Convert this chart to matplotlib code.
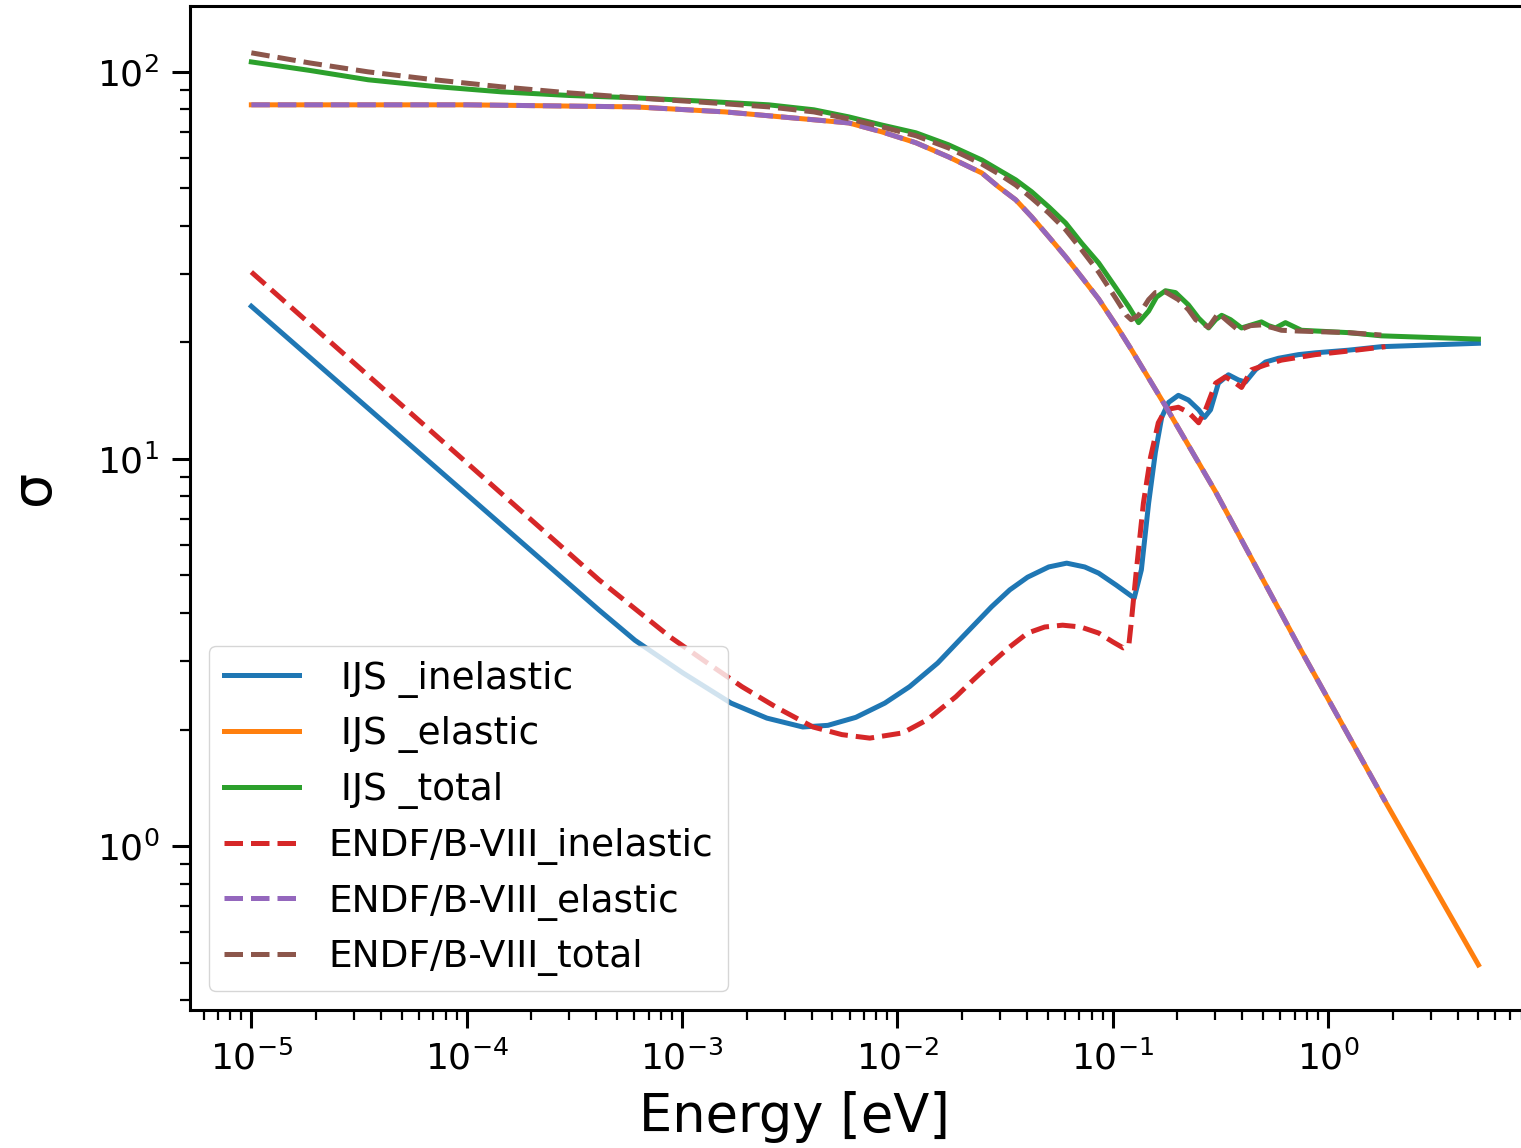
import matplotlib
matplotlib.use("Agg")
import matplotlib.pyplot as plt

# Cross sections (energy in eV, sigma in barn)

# IJS elastic; ENDF/B-VIII elastic lies on the same curve but stops at ~1.85 eV
e_el = [1e-5, 1e-4, 6.05e-4, 1.59e-3, 4.10e-3, 5.96e-3, 8.47e-3, 0.0122, 0.0173,
        0.0247, 0.0296, 0.0355, 0.0421, 0.0505, 0.0605, 0.0718, 0.0861, 0.103,
        0.122, 0.176, 0.301, 0.753, 1.85, 5.0]
s_ijs_el = [82.2, 82.2, 81.2, 78.8, 75.2, 73.8, 70.0, 65.6, 60.3,
            54.8, 50.4, 46.7, 42.2, 37.5, 33.3, 29.5, 25.9, 22.3,
            19.2, 13.7, 8.22, 3.19, 1.30, 0.493]
e_endf_el = e_el[:-1]
s_endf_el = s_ijs_el[:-1]

# IJS inelastic
e_ijs_in = [1e-5, 4.12e-4, 6.05e-4, 1.01e-3, 1.69e-3, 2.48e-3, 3.64e-3, 4.76e-3,
            6.42e-3, 8.75e-3, 0.0114, 0.0154, 0.0201, 0.0274, 0.0333, 0.0403,
            0.0505, 0.0612, 0.0742, 0.0861, 0.104, 0.126, 0.136, 0.147, 0.158,
            0.169, 0.182, 0.202, 0.225, 0.251, 0.267, 0.285, 0.310, 0.345,
            0.384, 0.414, 0.461, 0.513, 0.589, 0.730, 0.875, 1.245, 1.77, 5.0]
s_ijs_in = [24.8, 4.07, 3.40, 2.80, 2.34, 2.14, 2.03, 2.05,
            2.15, 2.34, 2.58, 2.97, 3.47, 4.15, 4.59, 4.95,
            5.26, 5.38, 5.26, 5.07, 4.72, 4.37, 5.17, 7.69, 10.4,
            12.8, 14.0, 14.6, 14.2, 13.4, 12.8, 13.4, 15.7, 16.5,
            16.0, 15.8, 17.0, 17.8, 18.2, 18.6, 18.8, 19.1, 19.5, 19.9]

# IJS total
e_ijs_tot = [1e-5, 1.86e-5, 3.49e-5, 7.07e-5, 1.45e-4, 2.99e-4, 6.05e-4, 1.2e-3,
             2.53e-3, 4.10e-3, 5.96e-3, 8.47e-3, 0.0122, 0.0173, 0.0247, 0.0296,
             0.0355, 0.0421, 0.0505, 0.0605, 0.0718, 0.0861, 0.103, 0.119, 0.132,
             0.147, 0.160, 0.176, 0.196, 0.225, 0.251, 0.279, 0.301, 0.321,
             0.353, 0.397, 0.442, 0.491, 0.530, 0.571, 0.635, 0.753, 1.245,
             1.77, 5.0]
s_ijs_tot = [106.1, 100.9, 95.4, 91.7, 88.8, 86.9, 85.7, 84.1,
             82.2, 79.8, 76.5, 72.9, 69.6, 64.8, 59.2, 55.8,
             52.6, 49.0, 44.8, 40.7, 36.1, 32.1, 27.8, 24.7, 22.5,
             24.1, 26.2, 27.2, 26.9, 25.0, 23.1, 21.8, 22.9, 23.5,
             22.9, 21.8, 22.2, 22.6, 22.1, 21.8, 22.5, 21.5, 21.2,
             20.8, 20.4]

# ENDF/B-VIII inelastic
e_endf_in = [1e-5, 4.12e-4, 8.8e-4, 1.29e-3, 1.9e-3, 2.79e-3, 4.06e-3, 5.53e-3,
             7.45e-3, 0.0106, 0.0138, 0.0187, 0.0226, 0.0274, 0.0333, 0.0403,
             0.0484, 0.0586, 0.0711, 0.0861, 0.100, 0.112, 0.119, 0.122, 0.129,
             0.139, 0.150, 0.163, 0.176, 0.202, 0.225, 0.251, 0.270, 0.301,
             0.334, 0.372, 0.397, 0.442, 0.513, 0.608, 0.875, 1.245, 1.85]
s_endf_in = [30.4, 4.87, 3.47, 2.99, 2.58, 2.27, 2.03, 1.94,
             1.90, 1.96, 2.12, 2.43, 2.69, 2.97, 3.27, 3.55,
             3.68, 3.72, 3.68, 3.55, 3.37, 3.25, 3.31, 3.77, 5.17,
             7.69, 10.1, 12.4, 13.4, 13.6, 13.2, 12.4, 13.4, 15.7,
             16.3, 15.7, 15.3, 17.0, 17.5, 18.0, 18.6, 19.0, 19.5]

# ENDF/B-VIII total
e_endf_tot = [1e-5, 1.86e-5, 3.49e-5, 7.07e-5, 1.45e-4, 2.99e-4, 6.05e-4, 1.2e-3,
              2.53e-3, 4.10e-3, 5.96e-3, 8.47e-3, 0.0122, 0.0173, 0.0247, 0.0296,
              0.0355, 0.0421, 0.0505, 0.0605, 0.0718, 0.0861, 0.103, 0.116, 0.122,
              0.132, 0.147, 0.158, 0.176, 0.202, 0.225, 0.243, 0.279, 0.310,
              0.345, 0.384, 0.437, 0.491, 0.559, 0.608, 0.730, 1.245, 1.77]
s_endf_tot = [112.0, 105.5, 100.0, 95.4, 91.5, 88.25, 85.7, 83.6,
              81.2, 78.8, 75.6, 72.1, 68.4, 63.6, 57.8, 54.5,
              51.0, 47.2, 43.2, 39.1, 34.7, 30.4, 26.1, 23.5, 22.9,
              23.5, 25.8, 26.9, 27.0, 25.8, 24.3, 22.9, 21.9, 23.8,
              22.6, 21.5, 22.1, 22.2, 21.8, 21.5, 21.4, 21.2, 20.9]

# major tick positions shown in the picture
x_ticks = [1e-5, 1e-4, 1e-3, 1e-2, 1e-1, 1e0]
y_ticks = [1e0, 1e1, 1e2]

lw = 3.6

fig = plt.figure(figsize=(15.21, 11.48), dpi=100)
# axes run a bit past the right edge of the picture, like in the original crop
ax = fig.add_axes([0.1249, 0.1202, 0.8876, 0.8746])

ax.loglog(e_ijs_in, s_ijs_in, '-', color='C0', lw=lw, label=' IJS _inelastic')
ax.loglog(e_el, s_ijs_el, '-', color='C1', lw=lw, label=' IJS _elastic')
ax.loglog(e_ijs_tot, s_ijs_tot, '-', color='C2', lw=lw, label=' IJS _total')
ax.loglog(e_endf_in, s_endf_in, '--', color='C3', lw=lw, label='ENDF/B-VIII_inelastic')
ax.loglog(e_endf_el, s_endf_el, '--', color='C4', lw=lw, label='ENDF/B-VIII_elastic')
ax.loglog(e_endf_tot, s_endf_tot, '--', color='C5', lw=lw, label='ENDF/B-VIII_total')

ax.set_xticks(x_ticks)
ax.set_yticks(y_ticks)
ax.set_xlim(10 ** -5.285, 10 ** 0.985)
ax.set_ylim(0.377, 148)

ax.set_xlabel('Energy [eV]', fontsize=38, labelpad=10)
ax.set_ylabel('σ', fontsize=40, labelpad=26)
ax.xaxis.label.set_x(0.448)
ax.yaxis.label.set_y(0.52)

ax.tick_params(which='major', labelsize=26, length=13, width=2.2, pad=9)
ax.tick_params(which='minor', length=7.5, width=1.6)
for sp in ax.spines.values():
    sp.set_linewidth(2.2)

ax.legend(loc='lower left', fontsize=27)

plt.savefig('out.png', dpi=100)
